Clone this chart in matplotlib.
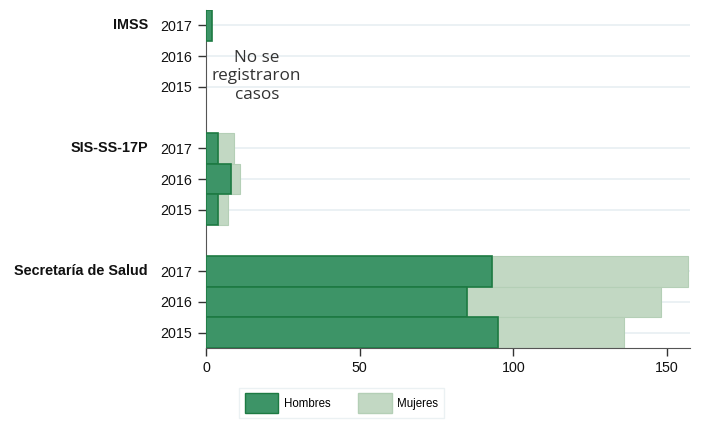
import numpy as np
import matplotlib
matplotlib.use("Agg")
import matplotlib.pyplot as plt
from matplotlib.patches import Patch

# data, top to bottom inside each institution
instituciones = ["IMSS", "SIS-SS-17P", "Secretaría de Salud"]
anios = ["2017", "2016", "2015"]
hombres = [[2, 0, 0], [4, 8, 4], [93, 85, 95]]
mujeres = [[0, 0, 0], [5, 3, 3], [64, 63, 41]]

c_hom = "#3d9467"
c_hom_edge = "#1d7a42"
c_muj = "#c2d8c3"
c_muj_edge = "#b4cfb6"

plt.rcParams['font.family'] = ['Liberation Sans', 'DejaVu Sans']

fig = plt.figure(figsize=(7.06, 4.21), dpi=100)
ax = fig.add_axes([0.2918, 0.1734, 0.6855, 0.8026])

ypos = []
ylabels = []
slot = 0
for g, inst in enumerate(instituciones):
    for k, a in enumerate(anios):
        y = slot
        ypos.append(y)
        ylabels.append(a)
        h = hombres[g][k]
        m = mujeres[g][k]
        if h > 0:
            ax.barh(y, h, height=1.0, color=c_hom, edgecolor=c_hom_edge,
                    linewidth=1.2, zorder=3)
        if m > 0:
            ax.barh(y, m, left=h, height=1.0, color=c_muj, edgecolor=c_muj_edge,
                    linewidth=0.8, zorder=2)
        slot += 1
    # group label next to first year
    ax.text(-0.12, ypos[-3], inst, transform=ax.get_yaxis_transform(),
            ha="right", va="center", fontsize=10.4, fontweight="bold", color="#111111")
    slot += 1

ax.set_yticks(ypos)
ax.set_yticklabels(ylabels)
ax.set_ylim(slot - 1 - 0.5, -0.5)
ax.set_xlim(0, 157.5)
ax.set_xticks([0, 50, 100, 150])

ax.grid(axis="y", color="#e8eff2", linewidth=1.2, zorder=0)
ax.set_axisbelow(True)
for s in ["top", "right"]:
    ax.spines[s].set_visible(False)
ax.spines["left"].set_color("#555555")
ax.spines["bottom"].set_color("#555555")
ax.tick_params(axis="both", labelsize=10.3, color="#333333", length=6, width=1,
               labelcolor="#111111")
ax.tick_params(axis="y", pad=4)

ax.text(16.5, 1.65, "No se\nregistraron\ncasos", ha="center", va="center",
        fontsize=12.3, family=["Open Sans", "DejaVu Sans"], color="#333333",
        linespacing=1.2)

handles = [Patch(facecolor=c_hom, edgecolor=c_hom_edge, label="Hombres"),
           Patch(facecolor=c_muj, edgecolor=c_muj_edge, label="Mujeres")]
leg = fig.legend(handles=handles, loc="center", bbox_to_anchor=(0.4837, 0.0428),
                 ncol=2, fontsize=8.3, frameon=True, fancybox=False,
                 handlelength=2.9, handleheight=2.3, columnspacing=2.4,
                 handletextpad=0.5, borderpad=0.45)
leg.get_frame().set_edgecolor("#e6eef0")
leg.get_frame().set_linewidth(1)

fig.savefig("out.png", dpi=100)
